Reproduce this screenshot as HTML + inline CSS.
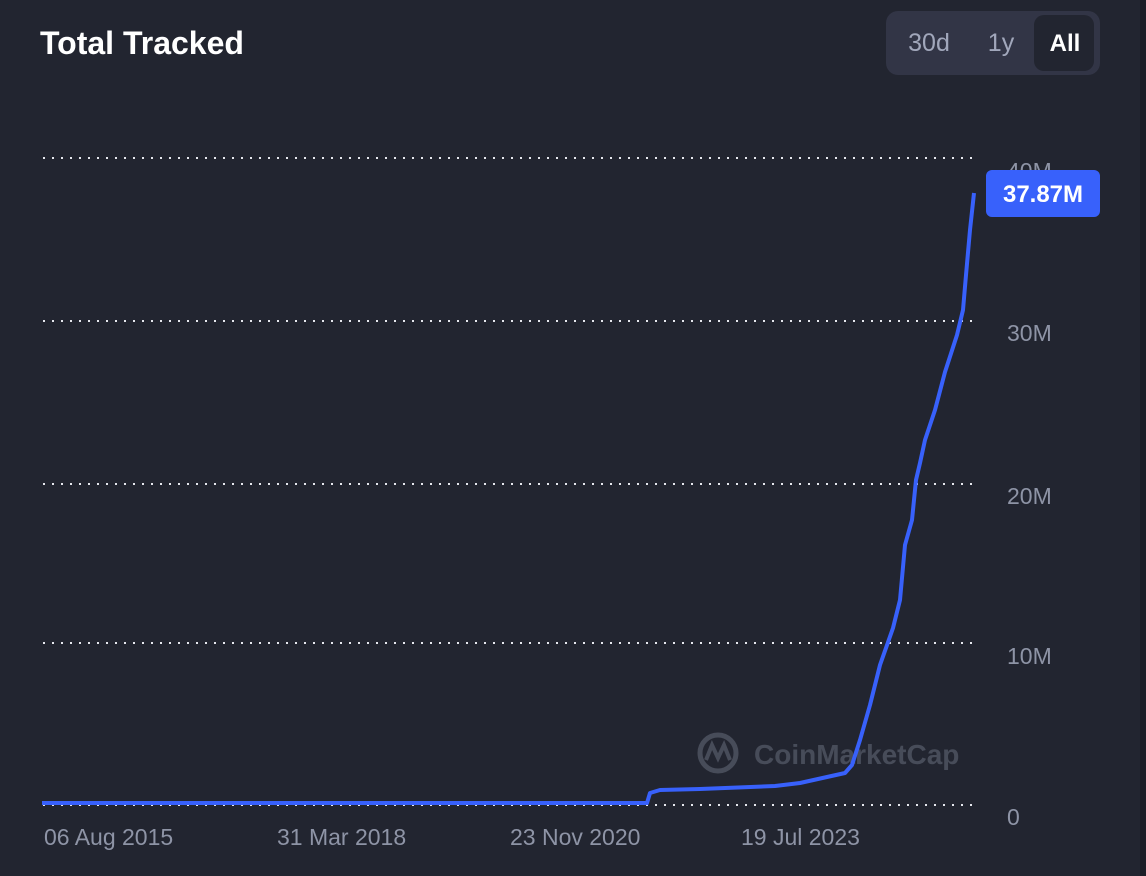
<!DOCTYPE html>
<html><head><style>
html,body{margin:0;padding:0;background:#222530;width:1146px;height:876px;overflow:hidden;font-family:"Liberation Sans",sans-serif}
</style></head><body>
<svg width="1146" height="876" xmlns="http://www.w3.org/2000/svg">
<rect width="1146" height="876" fill="#222530"/>
<rect x="1140" y="0" width="6" height="876" fill="#1c1e27"/>
<text x="40" y="54" fill="#fff" font-size="32" font-weight="bold">Total Tracked</text>
<rect x="886" y="11" width="214" height="64" rx="12" fill="#323546"/>
<rect x="1034" y="15" width="60" height="56" rx="10" fill="#222530"/>
<text x="929" y="51" fill="#a1a7bb" font-size="25" text-anchor="middle">30d</text>
<text x="1001" y="51" fill="#a1a7bb" font-size="25" text-anchor="middle">1y</text>
<text x="1065" y="51" fill="#fff" font-size="24" font-weight="bold" text-anchor="middle">All</text>
<g stroke="#e6e8ee" stroke-width="2" stroke-dasharray="2 7">
<line x1="43" y1="158" x2="975" y2="158"/>
<line x1="43" y1="321" x2="975" y2="321"/>
<line x1="43" y1="484" x2="975" y2="484"/>
<line x1="43" y1="643" x2="975" y2="643"/>
<line x1="43" y1="805" x2="975" y2="805"/>
</g>
<g fill="#8e94a6" font-size="23">
<text x="1007" y="179">40M</text>
<text x="1007" y="341">30M</text>
<text x="1007" y="504">20M</text>
<text x="1007" y="664">10M</text>
<text x="1007" y="825">0</text>
<text x="44" y="845">06 Aug 2015</text>
<text x="277" y="845">31 Mar 2018</text>
<text x="510" y="845">23 Nov 2020</text>
<text x="741" y="845">19 Jul 2023</text>
</g>
<g opacity="0.35" fill="#8e94a6">
<circle cx="718" cy="753" r="18" fill="none" stroke="#8e94a6" stroke-width="5"/>
<path d="M706 760 L712 745 L718 758 L724 745 L730 760" fill="none" stroke="#8e94a6" stroke-width="4"/>
<text x="754" y="764" font-size="28" font-weight="bold">CoinMarketCap</text>
</g>
<polyline fill="none" stroke="#3861fb" stroke-width="4" stroke-linejoin="round" points="42,803 647,803 650,793 660,790 700,789 775,786 800,783 845,773 852,765 860,740 870,705 880,665 893,628 900,600 905,545 912,520 916,480 920,463 925,440 935,410 945,372 957,335 963,310 966,275 970,230 974,193"/>
<rect x="986" y="170" width="114" height="47" rx="6" fill="#3861fb"/>
<text x="1043" y="202" fill="#fff" font-size="24" font-weight="bold" text-anchor="middle">37.87M</text>
</svg>
</body></html>
